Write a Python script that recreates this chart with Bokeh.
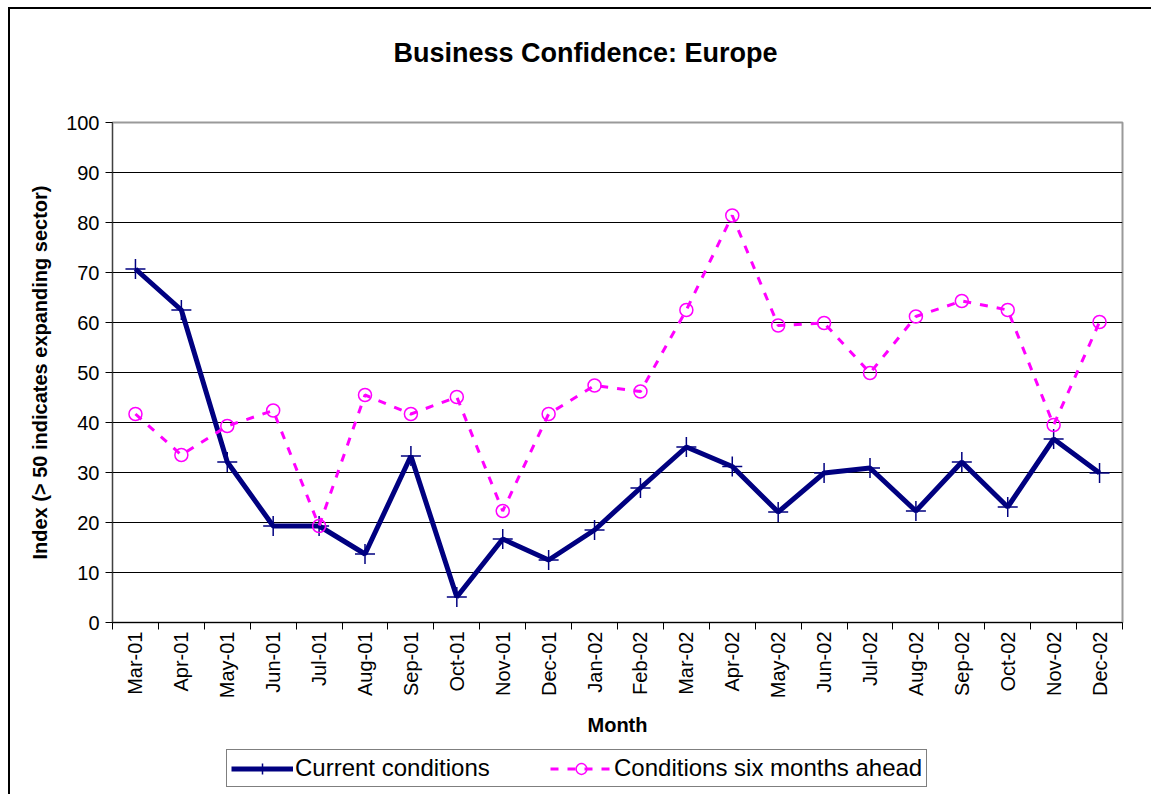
import math
from bokeh.plotting import figure
from bokeh.layouts import column
from bokeh.models import Range1d, FixedTicker, Legend, LegendItem, Title
from bokeh.embed import file_html
from bokeh.resources import INLINE

months = ["Mar-01", "Apr-01", "May-01", "Jun-01", "Jul-01", "Aug-01", "Sep-01",
          "Oct-01", "Nov-01", "Dec-01", "Jan-02", "Feb-02", "Mar-02", "Apr-02",
          "May-02", "Jun-02", "Jul-02", "Aug-02", "Sep-02", "Oct-02", "Nov-02", "Dec-02"]
current = [70.7, 62.5, 32.1, 19.3, 19.3, 13.7, 33.3, 5.1, 16.7, 12.5, 18.5,
           26.9, 35.1, 31.2, 22.1, 29.9, 30.9, 22.3, 32.1, 23.1, 36.7, 29.9]
ahead = [41.7, 33.5, 39.3, 42.4, 19.3, 45.5, 41.7, 45.1, 22.3, 41.7, 47.4,
         46.2, 62.5, 81.4, 59.4, 59.9, 49.9, 61.2, 64.3, 62.5, 39.5, 60.1]
series_names = ["Current conditions", "Conditions six months ahead"]
y_ticks = [0, 10, 20, 30, 40, 50, 60, 70, 80, 90, 100]

n = len(months)
xs = [i + 0.5 for i in range(n)]
bounds = [i for i in range(n + 1)]

FONT = "Liberation Sans"
navy = "#000080"
mag = "#FF00FF"

p = figure(width=1141, height=737,
           x_range=Range1d(0, n), y_range=Range1d(y_ticks[0], y_ticks[-1]),
           output_backend="svg", toolbar_location=None,
           min_border_left=102, min_border_right=29,
           min_border_top=113, min_border_bottom=124,
           background_fill_color="white", border_fill_color="white")

p.outline_line_color = "#9a9a9a"
p.outline_line_width = 2

# title (a blank spacer title sits between it and the frame)
p.title.text = "Business Confidence: Europe"
p.title.text_font = FONT
p.title.text_font_size = "27px"
p.title.text_font_style = "bold"
p.title.text_color = "black"
p.title.align = "left"
p.title.offset = 281
p.title.vertical_align = "top"
p.title.standoff = 55
p.add_layout(Title(text=" ", text_font_size="12px", standoff=9), "above")

# grids
p.xgrid.visible = False
p.ygrid.grid_line_color = "black"
p.ygrid.grid_line_width = 1
p.ygrid.ticker = FixedTicker(ticks=y_ticks)

# y axis
p.yaxis.ticker = FixedTicker(ticks=y_ticks)
p.yaxis.axis_label = "Index (> 50 indicates expanding sector)"
p.yaxis.axis_label_text_font = FONT
p.yaxis.axis_label_text_font_size = "20px"
p.yaxis.axis_label_text_font_style = "bold"
p.yaxis.axis_label_text_color = "black"
p.yaxis.axis_label_standoff = 12
p.yaxis.major_label_text_font = FONT
p.yaxis.major_label_text_font_size = "20px"
p.yaxis.major_label_text_color = "black"
p.yaxis.major_label_standoff = 6
p.yaxis.major_tick_out = 7
p.yaxis.major_tick_in = 0
p.yaxis.minor_tick_out = 0
p.yaxis.minor_tick_in = 0
p.yaxis.axis_line_color = "#404040"
p.yaxis.major_tick_line_color = "black"

# x axis: labels at category centers, ticks at boundaries (minor ticks)
p.xaxis.ticker = FixedTicker(ticks=xs, minor_ticks=bounds)
p.xaxis.major_label_overrides = {x: m for x, m in zip(xs, months)}
p.xaxis.major_label_orientation = math.pi / 2
p.xaxis.major_label_text_font = FONT
p.xaxis.major_label_text_font_size = "20px"
p.xaxis.major_label_text_color = "black"
p.xaxis.major_label_standoff = 2
p.xaxis.major_tick_out = 0
p.xaxis.major_tick_in = 0
p.xaxis.minor_tick_out = 7
p.xaxis.minor_tick_in = 0
p.xaxis.minor_tick_line_color = "black"
p.xaxis.axis_line_color = "black"
p.xaxis.axis_label = "Month"
p.xaxis.axis_label_text_font = FONT
p.xaxis.axis_label_text_font_size = "20px"
p.xaxis.axis_label_text_font_style = "bold"
p.xaxis.axis_label_text_color = "black"
p.xaxis.axis_label_standoff = 13

# series
line1 = dict(line_color=navy, line_width=5)
mark1 = dict(marker="cross", size=20, line_color=navy, line_width=1.5)
line2 = dict(line_color=mag, line_width=3, line_dash="8 9")
mark2 = dict(marker="circle", size=13, line_color=mag, line_width=1.5, fill_color=None)

p.line(xs, current, **line1)
p.scatter(xs, current, **mark1)
p.line(xs, ahead, **line2)
p.scatter(xs, ahead, **mark2)

# legend strip below the chart: same series, drawn outside its visible ranges,
# so that only the legend shows
q = figure(width=1141, height=48, x_range=Range1d(-10, -9), y_range=Range1d(-10, -9),
           output_backend="svg", toolbar_location=None,
           x_axis_type=None, y_axis_type=None,
           min_border=0, min_border_left=0, min_border_right=0,
           min_border_top=0, min_border_bottom=0,
           background_fill_color="white", border_fill_color="white")
q.outline_line_color = None
q.xgrid.visible = False
q.ygrid.visible = False
e1 = q.line(xs, current, **line1)
e1m = q.scatter(xs, current, **mark1)
e2 = q.line(xs, ahead, **line2)
e2m = q.scatter(xs, ahead, **mark2)

legend = Legend(items=[LegendItem(label=series_names[0], renderers=[e1, e1m]),
                       LegendItem(label=series_names[1], renderers=[e2, e2m])],
                orientation="horizontal", location=(114, 7),
                glyph_width=62, glyph_height=27, label_standoff=2, spacing=0,
                label_width=255, padding=4, margin=0,
                label_text_font=FONT, label_text_font_size="24px",
                label_text_color="black",
                border_line_color="black", border_line_width=1,
                background_fill_color="white", background_fill_alpha=1)
q.add_layout(legend)

layout = column(p, q, spacing=0,
                styles={"border-top": "2px solid black", "border-left": "2px solid black",
                        "margin-left": "8px", "margin-top": "7px"})

open("out.html", "w").write(file_html(layout, INLINE))
